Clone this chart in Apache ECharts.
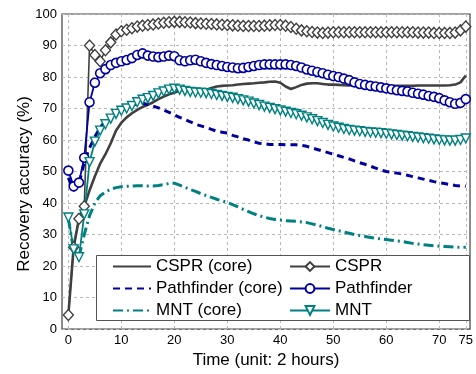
<!DOCTYPE html>
<html>
<head>
<meta charset="utf-8">
<script src="https://cdn.jsdelivr.net/npm/echarts@6/dist/echarts.min.js"></script>
<style>
  html, body { margin: 0; padding: 0; background: #fff; }
  #chart { width: 476px; height: 374px; }
</style>
</head>
<body>
<div id="chart"></div>
<script>
const time = [0, 1, 2, 3, 4, 5, 6, 7, 8, 9, 10, 11, 12, 13, 14, 15, 16, 17, 18, 19,
  20, 21, 22, 23, 24, 25, 26, 27, 28, 29, 30, 31, 32, 33, 34, 35, 36, 37, 38, 39,
  40, 41, 42, 43, 44, 45, 46, 47, 48, 49, 50, 51, 52, 53, 54, 55, 56, 57, 58, 59,
  60, 61, 62, 63, 64, 65, 66, 67, 68, 69, 70, 71, 72, 73, 74, 75];

const csprCore = [4.5, 26, 35, 39, 44, 48.5, 52.5, 55.5, 59, 63, 65.5, 67.2, 68.5, 69.6, 70.5, 71.2, 72, 73, 73.8, 74.5,
  75, 75.8, 76.4, 76.5, 76.2, 76, 76, 76.5, 77, 77.2, 77.3, 77.4, 77.6, 77.8, 77.9, 78, 78.2, 78.3, 78.5, 78.6,
  78.2, 77, 76.2, 76.8, 77.5, 77.9, 78, 78, 77.8, 77.6, 77.6, 77.5, 77.4, 77.3, 77.3, 77.2, 77.2, 77.2, 77.2, 77.2,
  77.2, 77.2, 77.2, 77.2, 77.2, 77.2, 77.3, 77.3, 77.3, 77.3, 77.3, 77.3, 77.4, 77.6, 78.3, 80.5];

const cspr = [4.5, 26, 35, 39, 90, 87, 85, 88.5, 91, 93.5, 94.5, 95, 95.5, 96, 96.3, 96.5, 96.7, 97, 97.2, 97.4,
  97.5, 97.5, 97.4, 97.3, 97.1, 97, 96.9, 96.8, 96.7, 96.6, 96.5, 96.4, 96.3, 96.2, 96.2, 96.2, 96.2, 96.3, 96.4, 96.5,
  96.5, 96.3, 95.9, 95.3, 94.8, 94.5, 94.3, 94.1, 94, 94.1, 94.2, 94.2, 94.2, 94.2, 94.2, 94.2, 94.2, 94.2, 94.2, 94.2,
  94.2, 94.2, 94.2, 94.2, 94.2, 94.2, 94.1, 94.1, 94.1, 94, 94, 94, 94, 94.1, 94.8, 96];

const pathCore = [48, 44, 46, 53, 57.5, 61, 64, 66, 67.5, 68.5, 69.5, 70.3, 71, 71.5, 71.7, 71.3, 70.8, 70.2, 69.5, 68.8,
  68, 67.2, 66.5, 65.8, 65, 64.5, 64, 63.4, 62.8, 62.5, 62.2, 61.5, 61, 60.4, 60, 59.4, 59, 58.8, 58.6, 58.6,
  58.6, 58.5, 58.5, 58.5, 58.3, 58, 57.5, 57, 56.5, 56, 55.5, 55, 54.5, 54, 53.4, 52.8, 52.3, 51.7, 51.1, 50.5,
  50, 49.8, 49.5, 49.2, 48.8, 48.4, 48, 47.6, 47.2, 46.8, 46.5, 46.2, 45.9, 45.6, 45.4, 45.3];

const pathfinder = [50.3, 45.3, 46.5, 54.4, 72, 78.2, 81.2, 82.5, 83.8, 84.5, 85, 85.4, 86, 87, 87.5, 86.8, 86.5, 86.3, 86.5, 86.8,
  86.6, 85.3, 85, 85.3, 85.5, 85, 84.5, 84.1, 83.8, 83.5, 83.2, 83, 82.8, 82.9, 83.2, 83.5, 83.8, 84, 84, 84,
  84, 84, 83.8, 83.5, 83, 82.4, 82, 81.6, 81.2, 80.7, 80.3, 80, 79.5, 79, 78.3, 77.8, 77.5, 77.2, 77, 76.7,
  76.4, 76.1, 75.8, 75.6, 75.4, 75, 74.7, 74.4, 74, 73.7, 73.3, 72.6, 72, 71.5, 71.8, 73];

const mntCore = [35, 25, 23, 30, 36, 40, 42.3, 43.5, 44.4, 44.9, 45.2, 45.3, 45.4, 45.5, 45.5, 45.4, 45.4, 45.6, 45.9, 46.2,
  46.3, 45.7, 45, 44.3, 43.7, 43, 42.4, 41.8, 41.2, 40.7, 40.2, 39.5, 38.8, 38, 37.3, 36.6, 36, 35.5, 35.1, 34.8,
  34.6, 34.4, 34.3, 34.2, 34, 33.8, 33.4, 33, 32.5, 32, 31.6, 31.2, 30.8, 30.4, 30, 29.7, 29.4, 29.1, 28.8, 28.6,
  28.4, 28.2, 28, 27.8, 27.5, 27.2, 27, 26.8, 26.6, 26.4, 26.3, 26.2, 26.1, 26, 26, 26];

const mnt = [35.4, 25.3, 22.8, 36.4, 53, 59.5, 63, 65, 66.8, 68.3, 69.3, 70, 70.8, 72, 72.8, 73.3, 74, 74.8, 75.4, 76,
  76.3, 76, 75.6, 75.3, 75.1, 75, 74.9, 74.6, 74.3, 74, 73.7, 73.4, 73, 72.6, 72.2, 71.6, 71.1, 70.6, 70.2, 69.8,
  69.4, 69, 68.6, 68.2, 67.7, 67.2, 66.6, 66, 65.4, 64.8, 64.3, 63.9, 63.5, 63.2, 63, 62.8, 62.6, 62.4, 62.3, 62.2,
  62, 61.8, 61.6, 61.4, 61.2, 61, 60.8, 60.6, 60.4, 60.2, 60, 59.9, 59.8, 59.8, 60, 60.5];

const xTicks = [0, 10, 20, 30, 40, 50, 60, 70, 75];

const pairs = vals => vals.map((v, i) => [time[i], v]);

const GRAY = '#404040';
const BLUE = '#0000a0';
const TEAL = '#008080';
const FONT = '"Liberation Sans", Arial, sans-serif';

const chart = echarts.init(document.getElementById('chart'));

chart.setOption({
  animation: false,
  backgroundColor: '#fff',
  textStyle: { fontFamily: FONT },
  grid: {
    left: 62, right: 2, top: 14, bottom: 44,
    show: true, borderColor: GRAY, borderWidth: 1.2, backgroundColor: '#fff'
  },
  xAxis: {
    type: 'value',
    min: -1.2,
    max: 75.8,
    name: 'Time (unit: 2 hours)',
    nameLocation: 'middle',
    nameGap: 21,
    nameTextStyle: { fontSize: 17, color: '#000', fontFamily: FONT },
    axisLine: { show: false },
    axisTick: { show: false, customValues: xTicks },
    axisLabel: { customValues: xTicks, fontSize: 13, color: '#000', margin: 5, fontFamily: FONT },
    splitLine: { show: true, lineStyle: { color: '#b8b8b8', type: [3, 3], width: 1 } }
  },
  yAxis: {
    type: 'value',
    min: 0,
    max: 100,
    interval: 10,
    axisLine: { show: false },
    axisTick: { show: false },
    axisLabel: { fontSize: 13, color: '#000', margin: 5, fontFamily: FONT },
    splitLine: { show: true, lineStyle: { color: '#b8b8b8', type: [3, 3], width: 1 } }
  },
  graphic: [{
    // y axis title, placed by hand so it sits lower like the original
    type: 'text',
    x: 24, y: 184, rotation: Math.PI / 2,
    style: {
      text: 'Recovery accuracy (%)',
      font: '17px ' + FONT,
      fill: '#000',
      align: 'center',
      verticalAlign: 'middle'
    }
  }, {
    type: 'rect',
    left: 96, top: 255, z: 3,
    shape: { width: 373, height: 65 },
    style: { fill: '#fff', stroke: '#555', lineWidth: 1 }
  }],
  legend: [{
    orient: 'vertical',
    left: 112, top: 258, padding: 0,
    itemWidth: 38, itemHeight: 11, itemGap: 5,
    textStyle: { fontSize: 17, color: '#000', fontFamily: FONT },
    data: [
      { name: 'CSPR (core)', itemStyle: { opacity: 0 } },
      { name: 'Pathfinder (core)', itemStyle: { opacity: 0 } },
      { name: 'MNT (core)', itemStyle: { opacity: 0 } }
    ]
  }, {
    orient: 'vertical',
    left: 289, top: 258, padding: 0,
    itemWidth: 40, itemHeight: 11, itemGap: 5,
    textStyle: { fontSize: 17, color: '#000', fontFamily: FONT },
    data: ['CSPR', 'Pathfinder', 'MNT']
  }],
  series: [
    {
      name: 'CSPR (core)', type: 'line', data: pairs(csprCore),
      symbol: 'none', color: GRAY,
      lineStyle: { color: GRAY, width: 2.6 }
    },
    {
      name: 'CSPR', type: 'line', data: pairs(cspr),
      symbol: 'diamond', symbolSize: [10, 11], color: GRAY,
      lineStyle: { color: GRAY, width: 1.6 },
      itemStyle: { color: '#fff', borderColor: GRAY, borderWidth: 1.4 }
    },
    {
      name: 'Pathfinder (core)', type: 'line', data: pairs(pathCore),
      symbol: 'none', color: BLUE,
      lineStyle: { color: BLUE, width: 3, type: [7, 5] }
    },
    {
      name: 'Pathfinder', type: 'line', data: pairs(pathfinder),
      symbol: 'circle', symbolSize: 9, color: BLUE,
      lineStyle: { color: BLUE, width: 1.8 },
      itemStyle: { color: '#fff', borderColor: BLUE, borderWidth: 1.6 }
    },
    {
      name: 'MNT (core)', type: 'line', data: pairs(mntCore),
      symbol: 'none', color: TEAL,
      lineStyle: { color: TEAL, width: 3, type: [10, 4, 2, 4] }
    },
    {
      name: 'MNT', type: 'line', data: pairs(mnt),
      symbol: 'triangle', symbolRotate: 180, symbolSize: 9, color: TEAL,
      lineStyle: { color: TEAL, width: 1.8 },
      itemStyle: { color: '#fff', borderColor: TEAL, borderWidth: 1.4 }
    }
  ]
});
</script>
</body>
</html>
